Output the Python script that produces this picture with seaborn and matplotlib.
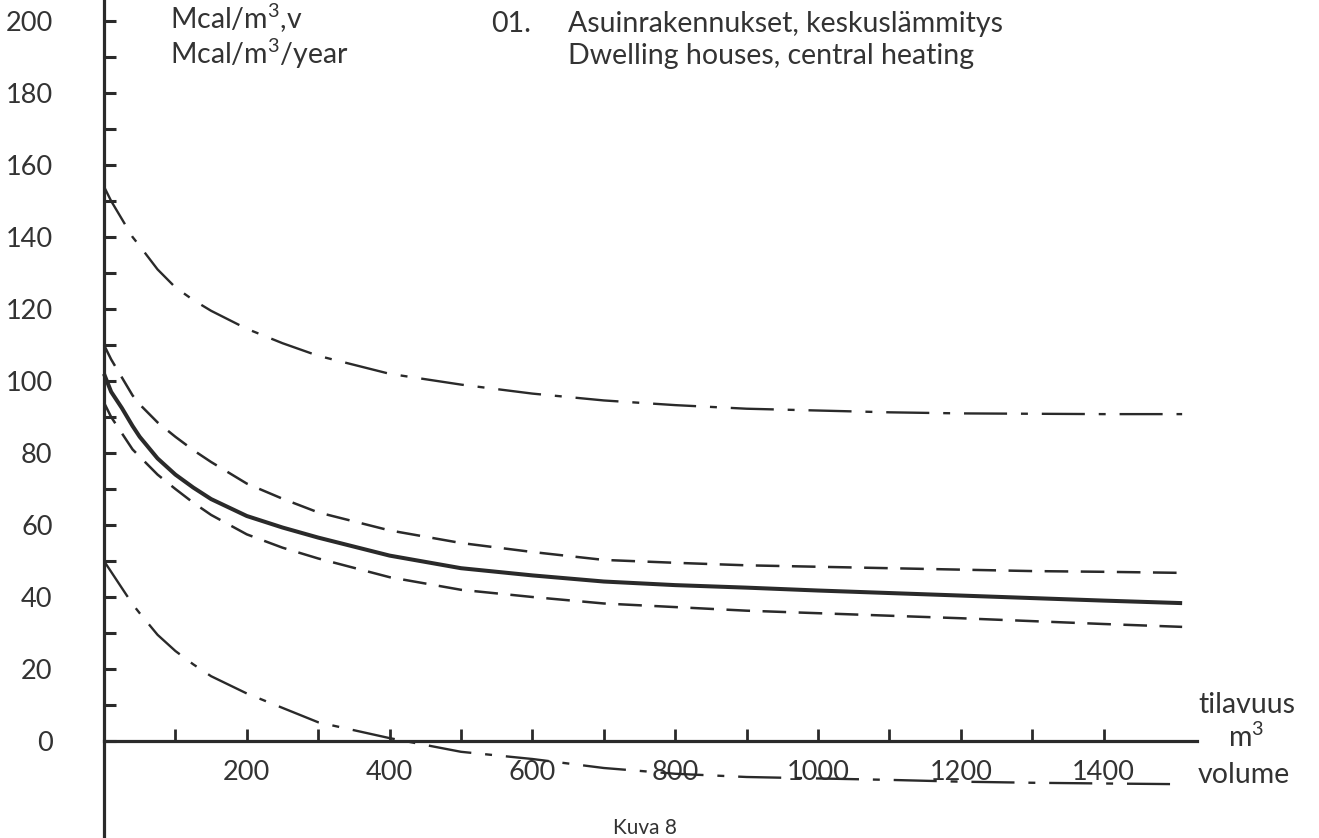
import matplotlib
matplotlib.use("Agg")
import matplotlib.pyplot as plt
import numpy as np
import pandas as pd
import seaborn as sns
from matplotlib.ticker import FixedLocator

# ---- data ----
volume = [0, 10, 25, 40, 50, 75, 100, 125, 150, 200, 250, 300, 400, 500, 600,
          700, 800, 900, 1000, 1100, 1200, 1300, 1400, 1510]
upper_dashdot = [154, 150, 145, 140, 137.5, 131, 126, 122.5, 119.5, 114.5, 110.5,
                 107, 102, 99, 96.5, 94.6, 93.3, 92.3, 91.8, 91.3, 91.0, 90.9,
                 90.8, 90.8]
upper_dashed = [110, 106, 101, 96, 93.5, 88.5, 84.5, 80.8, 77.5, 71.5, 67.3, 63.5,
                58.5, 55, 52.5, 50.3, 49.5, 48.8, 48.4, 48.0, 47.6, 47.2, 47.0,
                46.7]
mean_solid = [102, 97, 92.5, 87.5, 84.5, 78.5, 74, 70.4, 67.2, 62.5, 59.3, 56.5,
              51.5, 48, 46, 44.3, 43.3, 42.6, 41.8, 41.1, 40.4, 39.7, 39.0, 38.3]
lower_dashed = [94, 90, 85.5, 81, 79, 74, 70, 66.2, 62.8, 57.4, 53.7, 50.7, 45.5,
                42, 40, 38.2, 37.2, 36.2, 35.5, 34.8, 34.1, 33.3, 32.5, 31.7]
lower_dashdot = [50, 47, 42.5, 38, 35.5, 29.5, 25, 21.3, 18, 13.2, 9.2, 5.2, 0.8,
                 -3, -5, -7.5, -9.1, -10, -10.4, -10.8, -11.3, -11.6, -11.8, -12]

y_tick_labels = [0, 20, 40, 60, 80, 100, 120, 140, 160, 180, 200]
x_tick_labels = [200, 400, 600, 800, 1000, 1200, 1400]

unit_lines = ["Mcal/m$^{3}$,v", "Mcal/m$^{3}$/year"]
title_fi = "Asuinrakennukset, keskuslämmitys"
title_en = "Dwelling houses, central heating"

df = pd.DataFrame({
    "volume": volume,
    "upper_dashdot": upper_dashdot,
    "upper_dashed": upper_dashed,
    "mean": mean_solid,
    "lower_dashed": lower_dashed,
    "lower_dashdot": lower_dashdot,
})

sns.set_theme(style="white")
plt.rcParams["font.family"] = ["Lato", "DejaVu Sans"]
plt.rcParams["lines.scale_dashes"] = False
plt.rcParams["mathtext.fontset"] = "custom"
plt.rcParams["mathtext.rm"] = "Lato"

INK = "#2a2a2a"
TXT = "#333333"
W, H = 1319, 838
FS = 20.5

fig = plt.figure(figsize=(W / 100, H / 100), dpi=100)
ax = fig.add_axes([0, 0, 1, 1])
ax.set_facecolor("white")

# pixel mapping: x_px = 104 + 0.714*x, y_px = 741 - 3.6*y
ax.set_xlim(-104 / 0.714, (W - 104) / 0.714)
ax.set_ylim(-(H - 741) / 3.6, 741 / 3.6)

styles = [
    ("upper_dashdot", 1.7, [31, 10, 5, 10]),
    ("upper_dashed", 1.8, [17, 9]),
    ("mean", 2.9, None),
    ("lower_dashed", 1.8, [17, 9]),
    ("lower_dashdot", 1.7, [31, 10, 5, 10]),
]
for col, lw, dash in styles:
    sns.lineplot(data=df, x="volume", y=col, ax=ax, color=INK, linewidth=lw,
                 estimator=None, sort=False)
    line = ax.lines[-1]
    if dash is not None:
        line.set_dashes(dash)
    line.set_solid_capstyle("butt")
    line.set_solid_joinstyle("round")

# axes as spines through the origin
for s in ["top", "right"]:
    ax.spines[s].set_visible(False)
ax.spines["left"].set_position(("data", 0))
ax.spines["bottom"].set_position(("data", 0))
ax.spines["bottom"].set_bounds(0, 1531)
for s in ["left", "bottom"]:
    ax.spines[s].set_linewidth(2.3)
    ax.spines[s].set_color(INK)

ax.yaxis.set_major_locator(FixedLocator(y_tick_labels))
ax.yaxis.set_minor_locator(FixedLocator([v + 10 for v in y_tick_labels[:-1]]))
ax.xaxis.set_major_locator(FixedLocator(x_tick_labels))
ax.xaxis.set_minor_locator(FixedLocator([v - 100 for v in x_tick_labels]))
ax.set_yticklabels([str(v) for v in y_tick_labels])
ax.set_xticklabels([str(v) for v in x_tick_labels])

ax.tick_params(axis="y", which="both", direction="in", length=8.5, width=2.2,
               color=INK, left=True)
ax.tick_params(axis="y", which="major", pad=37, labelsize=19.5, labelcolor=TXT)
ax.tick_params(axis="x", which="both", direction="in", length=8.5, width=2.0,
               color=INK, bottom=True)
ax.tick_params(axis="x", which="major", pad=14, labelsize=19.5, labelcolor=TXT)
ax.set_xlabel("")
ax.set_ylabel("")
ax.grid(False)

def ftext(x, y, s, **kw):
    fig.text(x / W, 1 - y / H, s, color=TXT, **kw)

ftext(170, 29, unit_lines[0], fontsize=FS, va="baseline")
ftext(170, 64, unit_lines[1], fontsize=FS, va="baseline")
ftext(491, 32, "01.", fontsize=FS, va="baseline")
ftext(568, 32, title_fi, fontsize=FS, va="baseline")
ftext(568, 64, title_en, fontsize=FS, va="baseline")
ftext(1198, 713, "tilavuus", fontsize=FS, va="baseline")
ftext(1228, 747, "m$^{3}$", fontsize=FS, va="baseline")
ftext(1198, 783, "volume", fontsize=FS, va="baseline")
ftext(613, 834, "Kuva 8", fontsize=15, va="baseline")

fig.savefig("out.png", dpi=100, facecolor="white")
